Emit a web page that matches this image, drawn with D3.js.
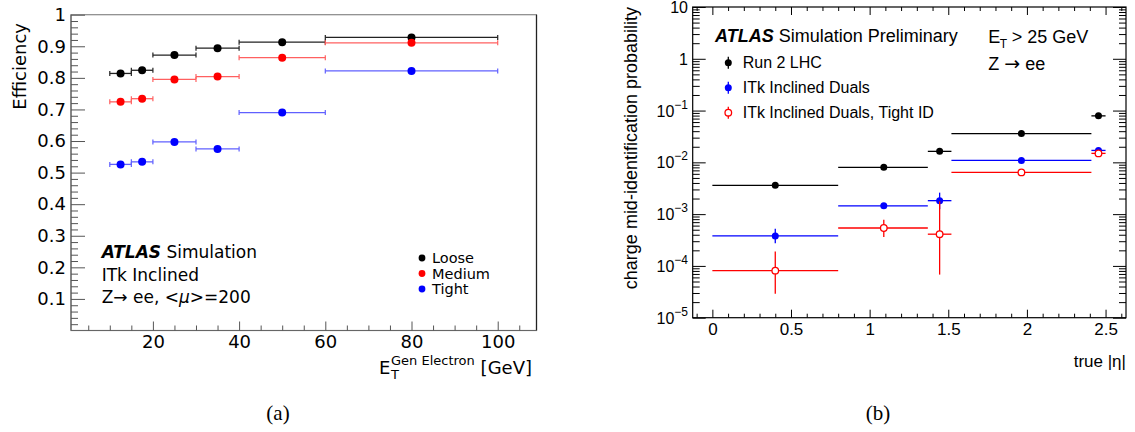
<!DOCTYPE html>
<html>
<head>
<meta charset="utf-8">
<script src="https://cdn.jsdelivr.net/npm/d3@7"></script>
<style>
  body { margin: 0; background: #fff; }
  svg { display: block; }
</style>
</head>
<body>
<div id="chart"></div>
<script>
// ---------- Data: panel (a) efficiency vs E_T ----------
const effBinLow   = [10, 15, 20, 30, 40, 60];
const effBinHigh  = [15, 20, 30, 40, 60, 100];
const effCenter   = [12.5, 17.5, 25, 35, 50, 80];
const effLoose    = [0.814, 0.824, 0.872, 0.894, 0.913, 0.928];
const effMedium   = [0.724, 0.734, 0.795, 0.804, 0.864, 0.911];
const effTight    = [0.526, 0.534, 0.597, 0.575, 0.690, 0.822];
const effYTicks   = [0.1, 0.2, 0.3, 0.4, 0.5, 0.6, 0.7, 0.8, 0.9, 1];
const effXTicks   = [20, 40, 60, 80, 100];
const effLegend   = ["Loose", "Medium", "Tight"];

// ---------- Data: panel (b) charge mis-id vs |eta| ----------
const etaBinLow   = [0, 0.8, 1.37, 1.52, 2.41];
const etaBinHigh  = [0.8, 1.37, 1.52, 2.41, 2.5];
const etaCenter   = [0.4, 1.09, 1.445, 1.965, 2.455];
const run2Prob    = [3.6e-3, 8.0e-3, 1.63e-2, 3.6e-2, 7.9e-2];
const run2Up      = [3.75e-3, 8.3e-3, 1.7e-2, 3.7e-2, 8.2e-2];
const run2Down    = [3.45e-3, 7.7e-3, 1.56e-2, 3.5e-2, 7.6e-2];
const dualsProb   = [3.8e-4, 1.45e-3, 1.82e-3, 1.09e-2, 1.7e-2];
const dualsUp     = [5.2e-4, 1.6e-3, 2.6e-3, 1.15e-2, 1.9e-2];
const dualsDown   = [2.75e-4, 1.3e-3, 1.25e-3, 1.03e-2, 1.5e-2];
const tightProb   = [8.1e-5, 5.4e-4, 4.1e-4, 6.4e-3, 1.49e-2];
const tightUp     = [1.9e-4, 7.8e-4, 1.76e-3, 6.8e-3, 1.7e-2];
const tightDown   = [2.9e-5, 3.6e-4, 6.8e-5, 6.0e-3, 1.3e-2];
const etaXTicks   = [0, 0.5, 1, 1.5, 2, 2.5];
const logDecades  = [-5, -4, -3, -2, -1, 0, 1];
const misidLegend = ["Run 2 LHC", "ITk Inclined Duals", "ITk Inclined Duals, Tight ID"];

// ---------- Layout ----------
const WIDTH = 1135, HEIGHT = 432;
const FONT_A = "DejaVu Sans";
const FONT_B = "Liberation Sans";

const svg = d3.select("#chart").append("svg")
    .attr("width", WIDTH)
    .attr("height", HEIGHT);

// ---------- helpers ----------
function styleAxis(sel, color, font, size) {
    sel.select(".domain").remove();
    sel.selectAll("line").attr("stroke", color).attr("stroke-width", 1);
    sel.selectAll("text")
        .attr("fill", "#000")
        .style("font-family", font)
        .style("font-size", size + "px");
}

function minorTicks(lo, hi, step, majors) {
    const out = [];
    for (let v = lo; v <= hi + 1e-9; v += step) {
        const r = Math.round(v * 1000) / 1000;
        if (!majors.some(m => Math.abs(m - r) < 1e-6)) out.push(r);
    }
    return out;
}

// ================= Panel (a) =================
function drawPanelA() {
    const x = d3.scaleLinear().domain([1, 109]).range([71, 536.5]);
    const y = d3.scaleLinear().domain([0, 1]).range([330.5, 14.7]);
    const g = svg.append("g");

    // frame
    g.append("rect")
        .attr("x", x.range()[0]).attr("y", y.range()[1])
        .attr("width", x.range()[1] - x.range()[0])
        .attr("height", y.range()[0] - y.range()[1])
        .attr("fill", "none").attr("stroke", "#888").attr("stroke-width", 1.2);
    g.append("line")
        .attr("x1", x.range()[1]).attr("x2", x.range()[1])
        .attr("y1", y.range()[1]).attr("y2", y.range()[0])
        .attr("stroke", "#222").attr("stroke-width", 1.2);
    g.append("line")
        .attr("x1", x.range()[0]).attr("x2", x.range()[0])
        .attr("y1", y.range()[1]).attr("y2", y.range()[0])
        .attr("stroke", "#666").attr("stroke-width", 1.2);
    g.append("line")
        .attr("x1", x.range()[0]).attr("x2", x.range()[1])
        .attr("y1", y.range()[0]).attr("y2", y.range()[0])
        .attr("stroke", "#666").attr("stroke-width", 1.2);

    // x axis
    g.append("g").attr("transform", `translate(0,${y.range()[0]})`)
        .call(d3.axisBottom(x).tickValues(effXTicks).tickSize(-9).tickPadding(4.5))
        .call(a => styleAxis(a, "#555", FONT_A, 18));
    g.append("g").attr("transform", `translate(0,${y.range()[0]})`)
        .call(d3.axisBottom(x).tickValues(minorTicks(5, 105, 5, effXTicks)).tickSize(-5).tickFormat(""))
        .call(a => styleAxis(a, "#555", FONT_A, 18));

    // y axis
    g.append("g").attr("transform", `translate(${x.range()[0]},0)`)
        .call(d3.axisLeft(y).tickValues(effYTicks).tickSize(-14).tickPadding(5).tickFormat(d => d3.format("")(d)))
        .call(a => styleAxis(a, "#555", FONT_A, 18));
    g.append("g").attr("transform", `translate(${x.range()[0]},0)`)
        .call(d3.axisLeft(y).tickValues(minorTicks(0.02, 0.98, 0.02, d3.range(0, 1.01, 0.1).map(v => Math.round(v * 10) / 10))).tickSize(-7).tickFormat(""))
        .call(a => styleAxis(a, "#555", FONT_A, 18));

    // series
    const series = [
        { values: effLoose,  marker: "#000000", bar: "#222222" },
        { values: effMedium, marker: "#ff0000", bar: "#ff6060" },
        { values: effTight,  marker: "#0000ff", bar: "#6060ff" }
    ];
    series.forEach(s => {
        const rows = s.values.map((v, i) => ({ lo: effBinLow[i], hi: effBinHigh[i], c: effCenter[i], v }));
        const sg = g.append("g");
        sg.selectAll(".bar").data(rows).enter().append("line")
            .attr("x1", d => x(d.lo)).attr("x2", d => x(d.hi))
            .attr("y1", d => y(d.v)).attr("y2", d => y(d.v))
            .attr("stroke", s.bar).attr("stroke-width", 1.3);
        ["lo", "hi"].forEach(k => {
            sg.selectAll(".cap-" + k).data(rows).enter().append("line")
                .attr("x1", d => x(d[k])).attr("x2", d => x(d[k]))
                .attr("y1", d => y(d.v) - 2.5).attr("y2", d => y(d.v) + 2.5)
                .attr("stroke", s.bar).attr("stroke-width", 1.2);
        });
        sg.selectAll("circle").data(rows).enter().append("circle")
            .attr("cx", d => x(d.c)).attr("cy", d => y(d.v))
            .attr("r", 4).attr("fill", s.marker);
    });

    // legend
    const leg = g.append("g").attr("transform", "translate(422,258)");
    effLegend.forEach((name, i) => {
        leg.append("circle").attr("cx", 0).attr("cy", i * 15.5).attr("r", 3.4).attr("fill", series[i].marker);
        leg.append("text").attr("x", 10).attr("y", i * 15.5 + 5)
            .style("font-family", FONT_A).style("font-size", "14.5px").text(name);
    });

    // ATLAS label
    const lab = g.append("g").style("font-family", FONT_A).style("font-size", "17px");
    const t1 = lab.append("text").attr("x", 101.7).attr("y", 258);
    t1.append("tspan").attr("font-weight", "bold").attr("font-style", "italic").text("ATLAS");
    t1.append("tspan").text(" Simulation");
    lab.append("text").attr("x", 101.7).attr("y", 281).text("ITk Inclined");
    const t3 = lab.append("text").attr("x", 101.7).attr("y", 303);
    t3.append("tspan").text("Z\u2192 ee, <");
    t3.append("tspan").attr("font-style", "italic").text("\u03bc");
    t3.append("tspan").text(">=200");

    // axis titles
    g.append("text")
        .attr("transform", "translate(26,23) rotate(-90)")
        .attr("text-anchor", "end")
        .style("font-family", FONT_A).style("font-size", "18px")
        .text("Efficiency");
    const xt = g.append("g").style("font-family", FONT_A);
    xt.append("text").attr("x", 379).attr("y", 373.5).style("font-size", "18px").text("E");
    xt.append("text").attr("x", 391).attr("y", 378.5).style("font-size", "13px").text("T");
    xt.append("text").attr("x", 391).attr("y", 365).style("font-size", "13px").text("Gen Electron");
    xt.append("text").attr("x", 532).attr("y", 373.5).attr("text-anchor", "end").style("font-size", "18px").text("[GeV]");
}

// ================= Panel (b) =================
function drawPanelB() {
    const x = d3.scaleLinear().domain([-0.125, 2.63]).range([692.7, 1126]);
    const y = d3.scaleLog().domain([1e-5, 10]).range([317.7, 7]);
    const g = svg.append("g");
    const [x0, x1] = x.range();
    const [y1, y0] = y.range();

    g.append("rect")
        .attr("x", x0).attr("y", y0).attr("width", x1 - x0).attr("height", y1 - y0)
        .attr("fill", "none").attr("stroke", "#000").attr("stroke-width", 1.2);

    const xMinor = minorTicks(-0.1, 2.6, 0.1, etaXTicks);
    const yMajor = logDecades.map(e => Math.pow(10, e));
    const yMinor = [];
    logDecades.slice(0, -1).forEach(e => d3.range(2, 10).forEach(k => yMinor.push(k * Math.pow(10, e))));

    // bottom + top
    g.append("g").attr("transform", `translate(0,${y1})`)
        .call(d3.axisBottom(x).tickValues(etaXTicks).tickSize(-8).tickPadding(5).tickFormat(d3.format("")))
        .call(a => styleAxis(a, "#000", FONT_B, 17));
    g.append("g").attr("transform", `translate(0,${y1})`)
        .call(d3.axisBottom(x).tickValues(xMinor).tickSize(-4).tickFormat(""))
        .call(a => styleAxis(a, "#000", FONT_B, 17));
    g.append("g").attr("transform", `translate(0,${y0})`)
        .call(d3.axisTop(x).tickValues(etaXTicks).tickSize(-8).tickFormat(""))
        .call(a => styleAxis(a, "#000", FONT_B, 17));
    g.append("g").attr("transform", `translate(0,${y0})`)
        .call(d3.axisTop(x).tickValues(xMinor).tickSize(-4).tickFormat(""))
        .call(a => styleAxis(a, "#000", FONT_B, 17));

    // left + right
    g.append("g").attr("transform", `translate(${x0},0)`)
        .call(d3.axisLeft(y).tickValues(yMajor).tickSize(-13).tickFormat(""))
        .call(a => styleAxis(a, "#000", FONT_B, 17));
    g.append("g").attr("transform", `translate(${x0},0)`)
        .call(d3.axisLeft(y).tickValues(yMinor).tickSize(-7).tickFormat(""))
        .call(a => styleAxis(a, "#000", FONT_B, 17));
    g.append("g").attr("transform", `translate(${x1},0)`)
        .call(d3.axisRight(y).tickValues(yMajor).tickSize(-13).tickFormat(""))
        .call(a => styleAxis(a, "#000", FONT_B, 17));
    g.append("g").attr("transform", `translate(${x1},0)`)
        .call(d3.axisRight(y).tickValues(yMinor).tickSize(-7).tickFormat(""))
        .call(a => styleAxis(a, "#000", FONT_B, 17));

    // log tick labels with superscripts
    const labels = g.append("g").style("font-family", FONT_B).style("font-size", "16px");
    logDecades.forEach(e => {
        const t = labels.append("text")
            .attr("x", 688).attr("y", y(Math.pow(10, e)) + 6)
            .attr("text-anchor", "end");
        if (e === 0) { t.text("1"); return; }
        if (e === 1) { t.text("10"); return; }
        t.append("tspan").text("10");
        t.append("tspan").attr("dy", -8).style("font-size", "12px").text("\u2212" + (-e));
    });

    // series
    const series = [
        { p: run2Prob,  up: run2Up,  dn: run2Down,  color: "#000000", open: false },
        { p: dualsProb, up: dualsUp, dn: dualsDown, color: "#0000ff", open: false },
        { p: tightProb, up: tightUp, dn: tightDown, color: "#ff0000", open: true }
    ];
    series.forEach(s => {
        const rows = s.p.map((v, i) => ({ lo: etaBinLow[i], hi: etaBinHigh[i], c: etaCenter[i], v, up: s.up[i], dn: s.dn[i] }));
        const sg = g.append("g");
        sg.selectAll(".h").data(rows).enter().append("line")
            .attr("x1", d => x(d.lo)).attr("x2", d => x(d.hi))
            .attr("y1", d => y(d.v)).attr("y2", d => y(d.v))
            .attr("stroke", s.color).attr("stroke-width", 1.3);
        sg.selectAll(".v").data(rows).enter().append("line")
            .attr("x1", d => x(d.c)).attr("x2", d => x(d.c))
            .attr("y1", d => y(d.up)).attr("y2", d => y(d.dn))
            .attr("stroke", s.color).attr("stroke-width", 1.3);
        sg.selectAll("circle").data(rows).enter().append("circle")
            .attr("cx", d => x(d.c)).attr("cy", d => y(d.v))
            .attr("r", s.open ? 3.3 : 3.5)
            .attr("fill", s.open ? "#fff" : s.color)
            .attr("stroke", s.open ? s.color : "none")
            .attr("stroke-width", 1.3);
    });

    // legend
    const leg = g.append("g").style("font-family", FONT_B).style("font-size", "16px");
    misidLegend.forEach((name, i) => {
        const s = series[i];
        const cy = 62.7 + i * 25;
        leg.append("line").attr("x1", 728.3).attr("x2", 728.3).attr("y1", cy - 6).attr("y2", cy + 6)
            .attr("stroke", s.color).attr("stroke-width", 1.3);
        leg.append("circle").attr("cx", 728.3).attr("cy", cy).attr("r", s.open ? 3.3 : 3.5)
            .attr("fill", s.open ? "#fff" : s.color)
            .attr("stroke", s.open ? s.color : "none").attr("stroke-width", 1.3);
        leg.append("text").attr("x", 742.7).attr("y", cy + 5.3).text(name);
    });

    // labels
    const lab = g.append("g").style("font-family", FONT_B).style("font-size", "18px");
    const t1 = lab.append("text").attr("x", 715).attr("y", 41.7);
    t1.append("tspan").attr("font-weight", "bold").attr("font-style", "italic").text("ATLAS");
    t1.append("tspan").text(" Simulation Preliminary");
    lab.append("text").attr("x", 988.3).attr("y", 43.3).text("E");
    lab.append("text").attr("x", 999.8).attr("y", 48).style("font-size", "12px").text("T");
    lab.append("text").attr("x", 1011.7).attr("y", 43.3).text("> 25 GeV");
    const z = lab.append("text").attr("x", 988.3).attr("y", 70);
    z.append("tspan").text("Z ");
    z.append("tspan").style("font-family", FONT_A).style("font-size", "19px").text("\u2192");
    z.append("tspan").text(" ee");

    // axis titles
    g.append("text")
        .attr("transform", "translate(637,7) rotate(-90)")
        .attr("text-anchor", "end")
        .style("font-family", FONT_B).style("font-size", "18px")
        .text("charge mid-identification probability");
    g.append("text")
        .attr("x", 1126).attr("y", 366.7).attr("text-anchor", "end")
        .style("font-family", FONT_B).style("font-size", "17px")
        .text("true |\u03b7|");
}

// ================= Captions =================
function drawCaptions() {
    [["(a)", 278], ["(b)", 878]].forEach(([txt, cx]) => {
        svg.append("text")
            .attr("x", cx).attr("y", 420).attr("text-anchor", "middle")
            .style("font-family", "Liberation Serif").style("font-size", "21px")
            .text(txt);
    });
}

drawPanelA();
drawPanelB();
drawCaptions();
</script>
</body>
</html>
